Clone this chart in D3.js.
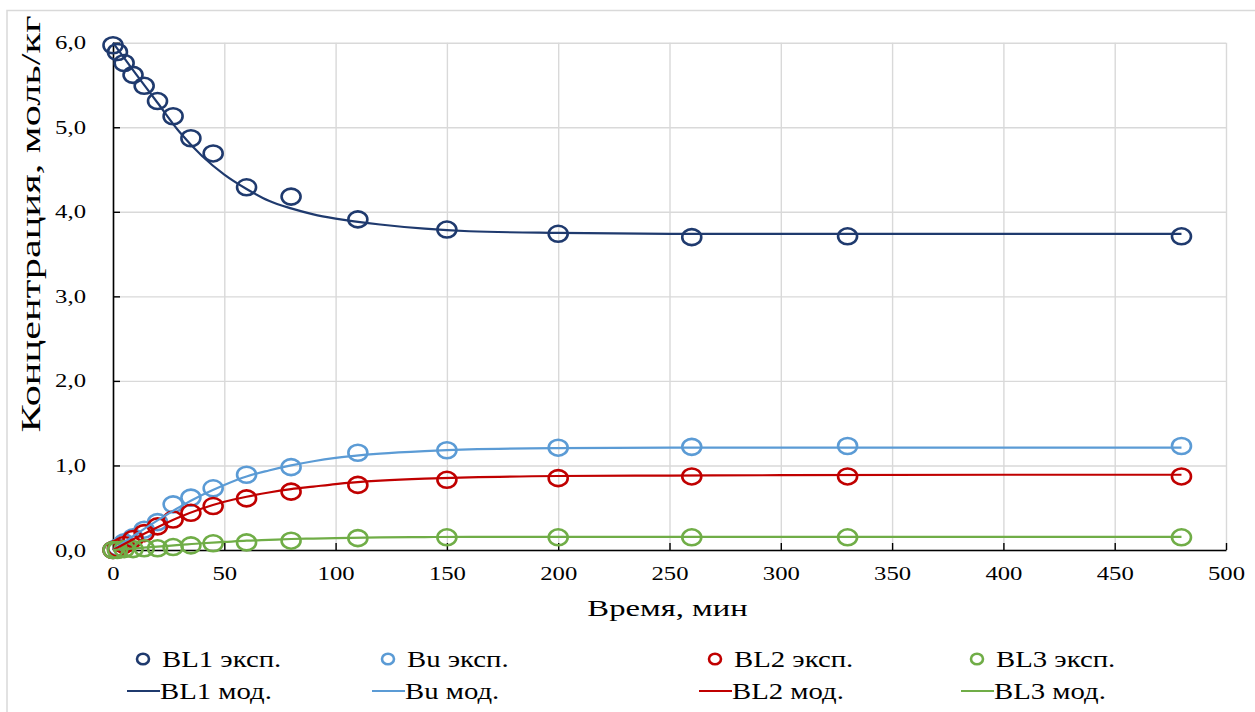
<!DOCTYPE html>
<html><head><meta charset="utf-8">
<script src="https://cdn.jsdelivr.net/npm/d3@7"></script>
<style>body{margin:0;background:#fff}svg{display:block}text{font-family:"Liberation Serif","Times New Roman",serif;fill:#000;font-weight:normal}</style>
</head><body><svg id="c" width="1255" height="712"></svg>
<script>
// ---- data ----
const expTimes = [0,2,5,9,14,20,27,35,45,60,80,110,150,200,260,330,480];
const expBL1 = [5.97,5.89,5.76,5.62,5.49,5.31,5.13,4.87,4.69,4.29,4.18,3.91,3.79,3.74,3.70,3.71,3.71];
const expBu  = [0.00,0.03,0.09,0.15,0.24,0.33,0.54,0.62,0.73,0.89,0.98,1.15,1.18,1.21,1.22,1.23,1.23];
const expBL2 = [0.00,0.02,0.06,0.13,0.20,0.28,0.36,0.44,0.52,0.61,0.69,0.77,0.83,0.85,0.87,0.87,0.87];
const expBL3 = [0.00,0.00,0.01,0.01,0.02,0.02,0.035,0.055,0.08,0.09,0.11,0.14,0.15,0.15,0.15,0.15,0.15];

const modTimes = [0,10,20,30,40,50,60,70,80,90,100,120,140,160,200,250,300,400,480];
const modBL1 = [6.00,5.64,5.29,4.94,4.66,4.44,4.27,4.13,4.04,3.97,3.92,3.85,3.80,3.77,3.75,3.74,3.74,3.74,3.74];
const modBu  = [0.00,0.18,0.35,0.51,0.65,0.77,0.87,0.94,1.00,1.05,1.09,1.14,1.17,1.19,1.205,1.21,1.21,1.21,1.21];
const modBL2 = [0.00,0.14,0.27,0.39,0.49,0.57,0.63,0.68,0.72,0.75,0.78,0.82,0.845,0.86,0.875,0.88,0.885,0.89,0.89];
const modBL3 = [0.00,0.02,0.04,0.06,0.08,0.095,0.11,0.12,0.13,0.135,0.14,0.15,0.153,0.155,0.155,0.155,0.155,0.155,0.155];

const seriesNames = ["BL1","Bu","BL2","BL3"];
const seriesColors = ["#1f3a6e","#5b9bd5","#c00000","#70ad47"];
const xTicks = [0,50,100,150,200,250,300,350,400,450,500];
const yTicks = [0,1,2,3,4,5,6];
const xTitle = "Время, мин";
const yTitle = "Концентрация, моль/кг";
const expSuffix = " эксп.";
const modSuffix = " мод.";

// ---- layout ----
const svg = d3.select("#c");
const L = 113, R = 1226, T = 42.7, B = 550;
const x = d3.scaleLinear().domain([0,500]).range([L,R]);
const y = d3.scaleLinear().domain([0,6]).range([B,T]);

function stretch(sel, sx){
  sel.each(function(){
    const w = this.getComputedTextLength();
    this.setAttribute("textLength", w*sx);
    this.setAttribute("lengthAdjust","spacingAndGlyphs");
  });
}

// outer frame
svg.append("rect").attr("x",7).attr("y",10.5).attr("width",1300).attr("height",750)
  .attr("fill","none").attr("stroke","#d9d9d9").attr("stroke-width",1.5);

// grid
const grid = svg.append("g");
grid.append("g").attr("transform",`translate(0,${B})`)
  .call(d3.axisBottom(x).tickValues(xTicks).tickSize(-(B-T)).tickFormat(""))
  .call(g=>{g.select(".domain").remove(); g.selectAll("line").attr("stroke","#d9d9d9").attr("stroke-width",1.4);});
grid.append("g").attr("transform",`translate(${L},0)`)
  .call(d3.axisLeft(y).tickValues(yTicks).tickSize(-(R-L)).tickFormat(""))
  .call(g=>{g.select(".domain").remove(); g.selectAll("line").attr("stroke","#d9d9d9").attr("stroke-width",1.4);});

// axes (inside ticks)
const fmt = d3.format(".1f");
const xa = svg.append("g").attr("transform",`translate(0,${B})`)
  .call(d3.axisBottom(x).tickValues(xTicks).tickSizeInner(-7).tickSizeOuter(0).tickPadding(26).tickFormat(d3.format("d")));
xa.select(".domain").attr("stroke","#000").attr("stroke-width",1.6);
xa.selectAll(".tick line").attr("stroke","#000").attr("stroke-width",1.4);
xa.selectAll("text").attr("font-size",19).attr("font-family","Liberation Serif").attr("fill","#000").attr("dy","0.2em").call(stretch,1.3);

const ya = svg.append("g").attr("transform",`translate(${L},0)`)
  .call(d3.axisLeft(y).tickValues(yTicks).tickSizeInner(-7).tickSizeOuter(0).tickPadding(27).tickFormat(d=>fmt(d).replace(".",",")));
ya.select(".domain").attr("stroke","#000").attr("stroke-width",1.6);
ya.selectAll(".tick line").attr("stroke","#000").attr("stroke-width",1.4);
ya.selectAll("text").attr("font-size",19).attr("font-family","Liberation Serif").attr("fill","#000").call(stretch,1.3);

// titles
svg.append("text").attr("x",(L+R)/2 - 2).attr("y",616).attr("text-anchor","middle")
  .attr("font-size",23).text(xTitle).call(stretch,1.42);
svg.append("text").attr("transform",`translate(40,224) rotate(-90)`).attr("text-anchor","middle")
  .attr("font-size",27).text(yTitle).call(stretch,1.57);

// data
const expData = [expBL1,expBu,expBL2,expBL3];
const modData = [modBL1,modBu,modBL2,modBL3];
const line = d3.line().x(d=>x(d[0])).y(d=>y(d[1])).curve(d3.curveMonotoneX);

const plot = svg.append("g");
expData.forEach((vals,i)=>{
  plot.append("g").selectAll("ellipse").data(expTimes.map((t,j)=>[t,vals[j]])).join("ellipse")
    .attr("cx",d=>x(d[0])).attr("cy",d=>y(d[1])).attr("rx",9.5).attr("ry",8)
    .attr("fill","none").attr("stroke",seriesColors[i]).attr("stroke-width",2.6);
});
modData.forEach((vals,i)=>{
  plot.append("path").datum(modTimes.map((t,j)=>[t,vals[j]])).attr("d",line)
    .attr("fill","none").attr("stroke",seriesColors[i]).attr("stroke-width",2.2);
});

// legend
const legX = [143,388,715,977];
const row1 = 659, row2 = 691;
const leg = svg.append("g");
seriesNames.forEach((n,i)=>{
  leg.append("ellipse").attr("cx",legX[i]).attr("cy",row1).attr("rx",6).attr("ry",5.3)
    .attr("fill","none").attr("stroke",seriesColors[i]).attr("stroke-width",2.6);
  leg.append("text").attr("x",legX[i]+19).attr("y",row1+8).attr("font-size",23).text(n+expSuffix).call(stretch,1.25);
  leg.append("line").attr("x1",legX[i]-16).attr("x2",legX[i]+17).attr("y1",row2).attr("y2",row2)
    .attr("stroke",seriesColors[i]).attr("stroke-width",2.2);
  leg.append("text").attr("x",legX[i]+17).attr("y",row2+8).attr("font-size",23).text(n+modSuffix).call(stretch,1.25);
});
</script></body></html>
